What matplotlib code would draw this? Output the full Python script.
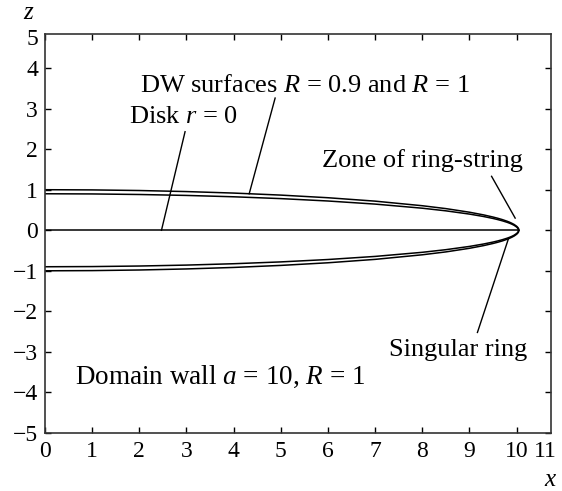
import matplotlib
matplotlib.use("Agg")
import matplotlib.pyplot as plt

plt.rcParams['font.family'] = ['Liberation Serif', 'DejaVu Serif']
plt.rcParams['mathtext.fontset'] = 'custom'
plt.rcParams['mathtext.rm'] = 'Liberation Serif'
plt.rcParams['mathtext.it'] = 'Liberation Serif:italic'

# DW surface R = 1 (upper half; lower half is its mirror)
x_R1 = [0, 1, 2, 3, 4, 5, 6, 7, 8, 8.5, 9, 9.3, 9.5, 9.6, 9.7, 9.8, 9.85, 9.9,
        9.95, 10.0, 10.02, 10.03, 10.04, 10.045, 10.05]
z_R1 = [1.0, 0.995, 0.980, 0.954, 0.917, 0.867, 0.802, 0.718, 0.605, 0.534,
        0.445, 0.379, 0.326, 0.296, 0.262, 0.222, 0.199, 0.172, 0.141, 0.0995,
        0.077, 0.063, 0.044, 0.031, 0.0]
# DW surface R = 0.9
x_R09 = [0, 1, 2, 3, 4, 5, 6, 7, 8, 8.5, 9, 9.3, 9.5, 9.6, 9.7, 9.8, 9.85, 9.9,
         9.95, 10.0, 10.02, 10.03, 10.035, 10.038, 10.04, 10.0404]
z_R09 = [0.9, 0.8955, 0.882, 0.859, 0.8255, 0.7805, 0.7216, 0.6452, 0.5438,
         0.479, 0.399, 0.3392, 0.2913, 0.2636, 0.2324, 0.1958, 0.1744, 0.150,
         0.1205, 0.0807, 0.0573, 0.041, 0.0296, 0.0197, 0.0082, 0.0]
# Disk r = 0
x_disk = [0, 10.03]
z_disk = [0, 0]

x_ticks = [0, 1, 2, 3, 4, 5, 6, 7, 8, 9, 10, 10.62]
x_tick_labels = ['0', '1', '2', '3', '4', '5', '6', '7', '8', '9', '10', '11']
y_ticks = [-5, -4, -3, -2, -1, 0, 1, 2, 3, 4, 4.76]
y_tick_labels = ['\u22125', '\u22124', '\u22123', '\u22122', '\u22121', '0',
                 '1', '2', '3', '4', '5']

fig = plt.figure(figsize=(5.62, 4.91), dpi=100)
ax = fig.add_axes([45/562, (491-433)/491, (551-45)/562, (433-34)/491])

lw = 1.1
ax.plot(x_R1, z_R1, color='black', lw=lw)
ax.plot(x_R1, [-v for v in z_R1], color='black', lw=lw)
ax.plot(x_R09, z_R09, color='black', lw=lw)
ax.plot(x_R09, [-v for v in z_R09], color='black', lw=lw)
ax.plot(x_disk, z_disk, color='black', lw=lw)

ax.set_xlim(0, 10.73)
ax.set_ylim(-5, 4.84)
ax.set_xticks(x_ticks)
ax.set_xticklabels(x_tick_labels)
ax.set_yticks(y_ticks)
ax.set_yticklabels(y_tick_labels)
ax.tick_params(direction='in', length=4, width=1, labelsize=17,
               top=True, right=True, colors='black')
ax.tick_params(axis='x', pad=6)
ax.tick_params(axis='y', pad=5)
# the last labels ("11", "5") sit at the plot corner; hide their tick marks
for t in (ax.xaxis.get_major_ticks()[-1], ax.yaxis.get_major_ticks()[-1]):
    t.tick1line.set_visible(False)
    t.tick2line.set_visible(False)
for s in ax.spines.values():
    s.set_linewidth(1.2)
    s.set_color('#333333')

fs = 19
ax.text(2.01, 3.42, 'DW surfaces $R$ = 0.9 and $R$ = 1', fontsize=fs, ha='left', va='baseline')
ax.text(1.79, 2.65, 'Disk $r$ = 0', fontsize=fs, ha='left', va='baseline')
ax.text(5.87, 1.57, 'Zone of ring-string', fontsize=fs, ha='left', va='baseline')
ax.text(10.22, -3.10, 'Singular ring', fontsize=fs, ha='right', va='baseline')
ax.text(0.64, -3.79, 'Domain wall $a$ = 10, $R$ = 1', fontsize=19.5, ha='left', va='baseline')

ax.plot([2.97, 2.47], [2.43, 0.0], color='black', lw=1)
ax.plot([4.88, 4.33], [3.26, 0.90], color='black', lw=1)
ax.plot([9.47, 9.97], [1.33, 0.30], color='black', lw=1)
ax.plot([9.17, 9.83], [-2.52, -0.20], color='black', lw=1)

fig.text(29/562, 1 - 13/491, '$z$', fontsize=18, ha='center', va='center')
fig.text(551/562, 1 - 480/491, '$x$', fontsize=18, ha='center', va='center')

fig.savefig('out.png', dpi=100)
